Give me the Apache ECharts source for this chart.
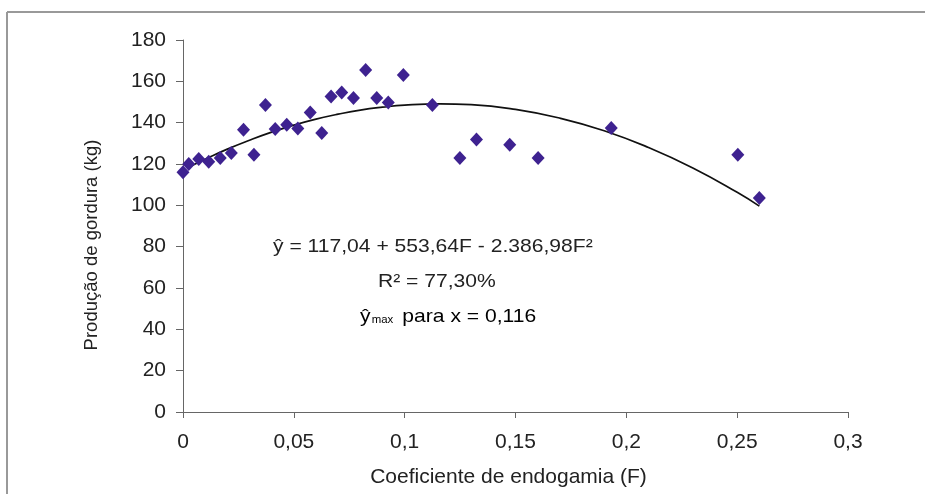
<!DOCTYPE html>
<html><head><meta charset="utf-8">
<script src="https://cdn.jsdelivr.net/npm/echarts@6/dist/echarts.min.js"></script>
<style>html,body{margin:0;padding:0;background:#fff}#c{width:925px;height:494px}</style>
</head><body><div id="c"></div>
<script>
const obsF = [0, 0.0026, 0.0071, 0.0116, 0.0168, 0.0218, 0.0273, 0.032, 0.0372, 0.0416, 0.0468, 0.0518, 0.0574, 0.0626, 0.0668, 0.0716, 0.0769, 0.0824, 0.0874, 0.0926, 0.0994, 0.1125, 0.1249, 0.1324, 0.1474, 0.1602, 0.1932, 0.2503, 0.26];
const obsY = [116, 120, 122.4, 121.1, 122.9, 125.3, 136.6, 124.5, 148.6, 136.9, 139, 137.2, 144.9, 135, 152.7, 154.6, 151.9, 165.5, 151.9, 149.8, 163.1, 148.6, 122.9, 131.8, 129.3, 122.9, 137.4, 124.5, 103.6];
const curveF = [0.003, 0.01, 0.02, 0.03, 0.04, 0.05, 0.06, 0.07, 0.08, 0.09, 0.10, 0.116, 0.13, 0.15, 0.17, 0.19, 0.21, 0.23, 0.25, 0.26];
const curveY = [118.7, 122.3, 127.2, 131.5, 135.4, 138.8, 141.7, 144.1, 146.1, 147.5, 148.5, 149.1, 148.7, 146.4, 142.2, 136.1, 128.0, 118.1, 106.3, 99.6];
const xTicks = [0, 0.05, 0.1, 0.15, 0.2, 0.25, 0.3];
const yTicks = [0, 20, 40, 60, 80, 100, 120, 140, 160, 180];
const xTitle = 'Coeficiente de endogamia (F)';
const yTitle = 'Produção de gordura (kg)';
const eqLine1 = 'ŷ = 117,04 + 553,64F - 2.386,98F²';
const eqLine2 = 'R² = 77,30%';
const eqLine3a = 'ŷ';
const eqLine3b = 'max';
const eqLine3c = 'para x = 0,116';

const chart = echarts.init(document.getElementById('c'), null, {renderer: 'canvas'});
const font = 'Liberation Sans, Arial, sans-serif';
const axisCol = '#666';
const txt = '#222';
chart.setOption({
  animation: false,
  backgroundColor: '#fff',
  grid: {left: 183, right: 77, top: 40, bottom: 82, containLabel: false},
  xAxis: {
    type: 'value', min: xTicks[0], max: xTicks[xTicks.length - 1], interval: 0.05,
    name: xTitle, nameLocation: 'middle', nameGap: 55,
    nameTextStyle: {fontFamily: font, fontSize: 21, color: txt, padding: [0, 14, 0, 0]},
    axisLine: {show: true, onZero: false, lineStyle: {color: axisCol, width: 1}},
    axisTick: {show: true, length: 6, inside: false, lineStyle: {color: axisCol}},
    axisLabel: {fontFamily: font, fontSize: 21, color: txt, margin: 20,
      formatter: v => String(+v.toFixed(2)).replace('.', ',')},
    splitLine: {show: false}
  },
  yAxis: {
    type: 'value', min: yTicks[0], max: yTicks[yTicks.length - 1], interval: 20,
    axisLine: {show: true, lineStyle: {color: axisCol, width: 1}},
    axisTick: {show: true, length: 7, lineStyle: {color: axisCol}},
    axisLabel: {fontFamily: font, fontSize: 21, color: txt, margin: 17},
    splitLine: {show: false}
  },
  series: [
    {
      type: 'line', data: curveF.map((f, i) => [f, curveY[i]]), smooth: true,
      showSymbol: false, symbol: 'none', lineStyle: {color: '#111', width: 1.7}, z: 2
    },
    {
      type: 'scatter', data: obsF.map((f, i) => [f, obsY[i]]),
      symbol: 'diamond', symbolSize: [13, 14], itemStyle: {color: '#3e2290', opacity: 1}, z: 3
    }
  ],
  graphic: [
    {type: 'line', shape: {x1: 7, y1: 12, x2: 925, y2: 12}, style: {stroke: '#999', lineWidth: 2}},
    {type: 'line', shape: {x1: 7, y1: 12, x2: 7, y2: 494}, style: {stroke: '#999', lineWidth: 2}},
    {type: 'text', x: 92, y: 245, rotation: Math.PI / 2,
      style: {text: yTitle, font: '18.5px ' + font, fill: txt, textAlign: 'center', textVerticalAlign: 'middle'}},
    {type: 'text', x: 273, y: 247, scaleX: 1.14,
      style: {text: eqLine1, font: '18.5px ' + font, fill: txt, textAlign: 'left', textVerticalAlign: 'middle'}},
    {type: 'text', x: 378, y: 282, scaleX: 1.14,
      style: {text: eqLine2, font: '18.5px ' + font, fill: txt, textAlign: 'left', textVerticalAlign: 'middle'}},
    {type: 'text', x: 360, y: 317, scaleX: 1.14, style: {
      text: '{a|' + eqLine3a + '}{s|' + eqLine3b + '}{a|' + eqLine3c + '}',
      textAlign: 'left', textVerticalAlign: 'middle',
      rich: {a: {fontFamily: font, fontSize: 18.5, color: txt},
             s: {fontFamily: font, fontSize: 10, color: txt, padding: [7, 8, 0, 1]}}
    }}
  ]
});
</script></body></html>
